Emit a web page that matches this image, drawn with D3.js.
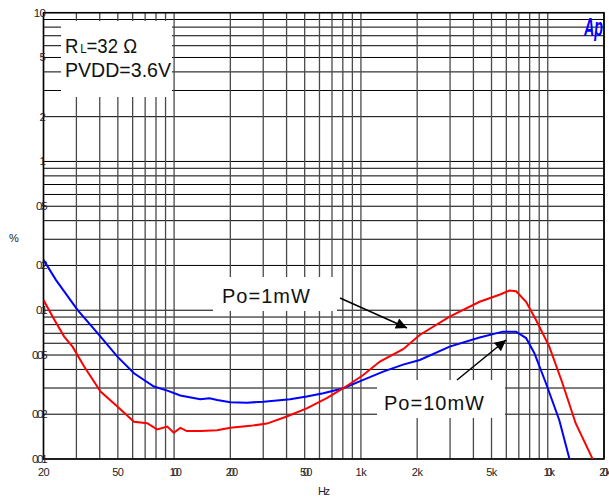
<!DOCTYPE html>
<html>
<head>
<meta charset="utf-8">
<script src="https://cdn.jsdelivr.net/npm/d3@7"></script>
<style>
  body { margin: 0; background: #fff; }
  text { font-family: "Liberation Sans", Arial, sans-serif; }
</style>
</head>
<body>
<div id="chart"></div>
<script>
// Po = 10mW (blue)
var freq10 = [20, 23.3, 30.4, 40.4, 49.7, 61, 78, 92, 108, 125, 138, 155, 170, 200, 246, 301, 418, 513, 629, 805, 1029, 1316, 1682, 2065, 2984, 4315, 5743, 6768, 7655, 8481, 9780, 11520, 13040, 13600];
var thd10 = [0.218, 0.160, 0.1005, 0.0665, 0.0488, 0.0377, 0.0307, 0.0288, 0.0267, 0.0258, 0.0252, 0.0256, 0.0249, 0.0241, 0.0239, 0.0243, 0.0252, 0.0263, 0.0277, 0.0299, 0.034, 0.0387, 0.0431, 0.0463, 0.0569, 0.0655, 0.0718, 0.0718, 0.065, 0.0514, 0.0323, 0.0183, 0.0101, 0.008];

// Po = 1mW (red)
var freq1 = [20, 22.9, 25.8, 28.6, 33, 40.4, 49.7, 61, 71.8, 81, 92, 99.6, 108, 117, 138, 170, 200, 256, 314, 401, 513, 656, 805, 1029, 1263, 1682, 2065, 2984, 4315, 5514, 6235, 6768, 7655, 8657, 10193, 11990, 14100, 17320, 18500];
var thd1 = [0.117, 0.086, 0.0665, 0.0569, 0.0418, 0.0284, 0.0225, 0.0178, 0.0174, 0.0158, 0.0165, 0.0150, 0.0162, 0.0154, 0.0154, 0.0156, 0.0162, 0.0167, 0.0173, 0.0193, 0.0219, 0.0257, 0.0299, 0.0367, 0.0452, 0.0547, 0.0682, 0.0906, 0.114, 0.127, 0.1356, 0.134, 0.114, 0.086, 0.0569, 0.0323, 0.0174, 0.0101, 0.0085];

var xTickVals = [20, 50, 100, 200, 500, 1000, 2000, 5000, 10000, 20000];
var xTickText = ["20", "50", "100", "200", "500", "1k", "2k", "5k", "10k", "20k"];
var yTickVals = [10, 5, 2, 1, 0.5, 0.2, 0.1, 0.05, 0.02, 0.01];
var yTickText = ["10", "5", "2", "1", "0.5", "0.2", "0.1", "0.05", "0.02", "0.01"];

var svgWidth = 609;
var svgHeight = 497;
var margin = { top: 12.7, right: 5, bottom: 38, left: 43.5 };
var width = svgWidth - margin.left - margin.right;
var height = svgHeight - margin.top - margin.bottom;

var svg = d3.select("#chart")
  .append("svg")
  .attr("width", svgWidth)
  .attr("height", svgHeight);

var chartGroup = svg.append("g")
  .attr("transform", `translate(${margin.left}, ${margin.top})`);

var xScale = d3.scaleLog().domain([20, 20000]).range([0, width]);
var yScale = d3.scaleLog().domain([0.01, 10]).range([height, 0]);

// grid values
var xGrid = [];
[10, 100, 1000, 10000].forEach(function(dec) {
  for (var m = 1; m <= 9; m++) {
    var v = dec * m;
    if (v >= 20 && v <= 20000) xGrid.push(v);
  }
});
xGrid.push(20000);
var yGrid = [];
[0.01, 0.1, 1].forEach(function(dec) {
  for (var m = 1; m <= 9; m++) yGrid.push(dec * m);
});
yGrid.push(10);

chartGroup.append("g").selectAll("line")
  .data(yGrid)
  .enter()
  .append("line")
  .attr("x1", 0).attr("x2", width)
  .attr("y1", d => yScale(d)).attr("y2", d => yScale(d))
  .attr("stroke", "#000")
  .attr("stroke-width", 1);

chartGroup.append("g").selectAll("line")
  .data(xGrid)
  .enter()
  .append("line")
  .attr("x1", d => xScale(d)).attr("x2", d => xScale(d))
  .attr("y1", 0).attr("y2", height)
  .attr("stroke", "#4a4a4a")
  .attr("stroke-width", 1.3);

// white label boxes over the grid
var boxes = [
  { x: 61, y: 21, w: 111, h: 76 },
  { x: 213, y: 277, w: 124, h: 34 },
  { x: 377, y: 380, w: 128, h: 38 }
];
svg.append("g").selectAll("rect")
  .data(boxes)
  .enter()
  .append("rect")
  .attr("x", d => d.x).attr("y", d => d.y)
  .attr("width", d => d.w).attr("height", d => d.h)
  .attr("fill", "#fff");

// frame
chartGroup.append("rect")
  .attr("width", width).attr("height", height)
  .attr("fill", "none")
  .attr("stroke", "#000")
  .attr("stroke-width", 1.5);

// clip
svg.append("defs").append("clipPath").attr("id", "clip")
  .append("rect").attr("width", width).attr("height", height);

var line = d3.line()
  .x(d => xScale(d[0]))
  .y(d => yScale(d[1]));

var curves = chartGroup.append("g").attr("clip-path", "url(#clip)");
curves.append("path")
  .datum(freq10.map((f, i) => [f, thd10[i]]))
  .attr("d", line)
  .attr("fill", "none")
  .attr("stroke", "#0000ff")
  .attr("stroke-width", 2);
curves.append("path")
  .datum(freq1.map((f, i) => [f, thd1[i]]))
  .attr("d", line)
  .attr("fill", "none")
  .attr("stroke", "#ff0000")
  .attr("stroke-width", 2);

// axes labels
chartGroup.append("g").selectAll("text")
  .data(xTickVals)
  .enter()
  .append("text")
  .attr("x", (d, i) => i === xTickVals.length - 1 ? xScale(d) + 4 : xScale(d))
  .attr("y", height + 17)
  .attr("text-anchor", (d, i) => i === xTickVals.length - 1 ? "end" : "middle")
  .attr("font-size", 11)
  .attr("fill", "#222")
  .attr("letter-spacing", (d, i) => xTickText[i].length > 2 ? -3 : -0.5)
  .text((d, i) => xTickText[i]);

chartGroup.append("g").selectAll("text")
  .data(yTickVals)
  .enter()
  .append("text")
  .attr("x", 2)
  .attr("y", d => yScale(d) + 4)
  .attr("text-anchor", "end")
  .attr("font-size", 11.5)
  .attr("fill", "#222")
  .attr("letter-spacing", (d, i) => yTickText[i].length > 2 ? -2.2 : -0.5)
  .text((d, i) => yTickText[i]);

svg.append("text")
  .attr("x", 9).attr("y", 242)
  .attr("font-size", 11).attr("fill", "#222")
  .text("%");

svg.append("text")
  .attr("x", 318).attr("y", 495)
  .attr("font-size", 11).attr("fill", "#222")
  .attr("letter-spacing", -1.5)
  .text("Hz");

// conditions box
var rl = svg.append("text")
  .attr("x", 65).attr("y", 53)
  .attr("font-size", 21).attr("fill", "#111")
  .attr("textLength", 72).attr("lengthAdjust", "spacingAndGlyphs");
rl.append("tspan").text("R");
rl.append("tspan").attr("font-size", 13).attr("dx", 2).text("L");
rl.append("tspan").text("=32 Ω");

svg.append("text")
  .attr("x", 65).attr("y", 77)
  .attr("font-size", 21).attr("fill", "#111")
  .attr("textLength", 106).attr("lengthAdjust", "spacingAndGlyphs")
  .text("PVDD=3.6V");

// Ap logo (narrow, squeezed horizontally)
svg.append("text")
  .attr("transform", "translate(584, 36) scale(0.55, 1)")
  .attr("font-size", 26).attr("font-weight", "bold").attr("font-style", "italic")
  .attr("fill", "#0000ff")
  .text("Ap");

// annotations
svg.append("text")
  .attr("x", 222).attr("y", 303)
  .attr("font-size", 20).attr("fill", "#111")
  .attr("letter-spacing", 1)
  .text("Po=1mW");
svg.append("text")
  .attr("x", 384).attr("y", 410)
  .attr("font-size", 20).attr("fill", "#111")
  .attr("letter-spacing", 1)
  .text("Po=10mW");

svg.select("defs").append("marker")
  .attr("id", "arrow")
  .attr("markerUnits", "userSpaceOnUse")
  .attr("viewBox", "0 0 10 10")
  .attr("refX", 10).attr("refY", 5)
  .attr("markerWidth", 14).attr("markerHeight", 11)
  .attr("orient", "auto")
  .append("path")
  .attr("d", "M0,0 L10,5 L0,10 z")
  .attr("fill", "#000");

var arrows = [
  { x1: 340, y1: 298, x2: 407, y2: 328 },
  { x1: 457, y1: 380, x2: 506, y2: 340 }
];
svg.append("g").selectAll("line")
  .data(arrows)
  .enter()
  .append("line")
  .attr("x1", d => d.x1).attr("y1", d => d.y1)
  .attr("x2", d => d.x2).attr("y2", d => d.y2)
  .attr("stroke", "#000")
  .attr("stroke-width", 1.5)
  .attr("marker-end", "url(#arrow)");
</script>
</body>
</html>
